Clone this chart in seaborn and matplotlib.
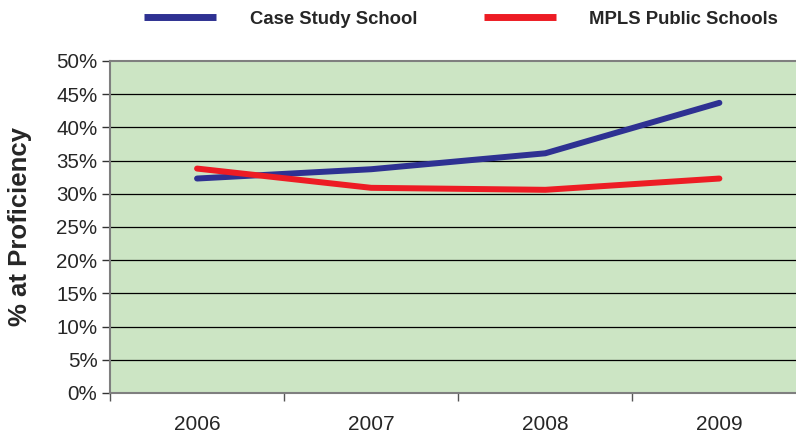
import pandas as pd
import matplotlib.pyplot as plt
import seaborn as sns
from matplotlib.ticker import FixedLocator, NullFormatter

years = ['2006', '2007', '2008', '2009']
case_study = [32.3, 33.7, 36.1, 43.7]
mpls = [33.8, 30.9, 30.6, 32.3]
series_names = ['Case Study School', 'MPLS Public Schools']
yticks = list(range(0, 51, 5))

df = pd.DataFrame({
    'x': list(range(len(years))) * 2,
    'value': case_study + mpls,
    'series': [series_names[0]] * 4 + [series_names[1]] * 4,
})

sns.set_style('white')
plt.rcParams['font.family'] = ['Liberation Sans', 'DejaVu Sans']

fig = plt.figure(figsize=(7.96, 4.33), dpi=100)
ax = fig.add_axes([110 / 796, 40 / 433, 686 / 796, 332 / 433])
ax.set_facecolor('#cce5c4')

sns.lineplot(data=df, x='x', y='value', hue='series', ax=ax,
             palette={series_names[0]: '#2e3192', series_names[1]: '#ed1c24'},
             linewidth=4.3, legend=False, zorder=3)

ax.set_xlim(-0.5, 3.44)
ax.set_ylim(0, 50)
ax.set_yticks(yticks)
ax.set_yticklabels([f'{t}%' for t in yticks], fontsize=14.8)
for t in yticks[1:-1]:
    ax.axhline(t, color='black', linewidth=0.9, zorder=1)

ax.set_xticks(range(len(years)))
ax.set_xticklabels(years, fontsize=15)
ax.xaxis.set_minor_locator(FixedLocator([-0.5, 0.5, 1.5, 2.5]))
ax.xaxis.set_minor_formatter(NullFormatter())
ax.tick_params(axis='x', which='major', length=0, pad=16)
ax.tick_params(axis='x', which='minor', length=6, width=1, color='#555555',
               direction='out', bottom=True)
ax.tick_params(axis='y', length=6, width=1, color='#333333', direction='out',
               pad=3, left=True)

for side in ['left', 'bottom', 'top']:
    ax.spines[side].set_color('#7f7f7f')
    ax.spines[side].set_linewidth(1.5)
ax.spines['right'].set_visible(False)

ax.set_xlabel('')
ax.set_ylabel('% at Proficiency', fontsize=18.5, fontweight='bold')
ax.yaxis.set_label_coords(-0.114, 0.5)

handles = [plt.Line2D([], [], color='#2e3192', linewidth=5, solid_capstyle='butt'),
           plt.Line2D([], [], color='#ed1c24', linewidth=5, solid_capstyle='butt')]
fig.legend(handles, series_names, loc='center', bbox_to_anchor=(461 / 796, 1 - 19 / 433),
           ncol=2, frameon=False, handlelength=3.9, handletextpad=1.8, columnspacing=3.6,
           prop={'weight': 'bold', 'size': 13.3})

fig.savefig('out.png', dpi=100)
